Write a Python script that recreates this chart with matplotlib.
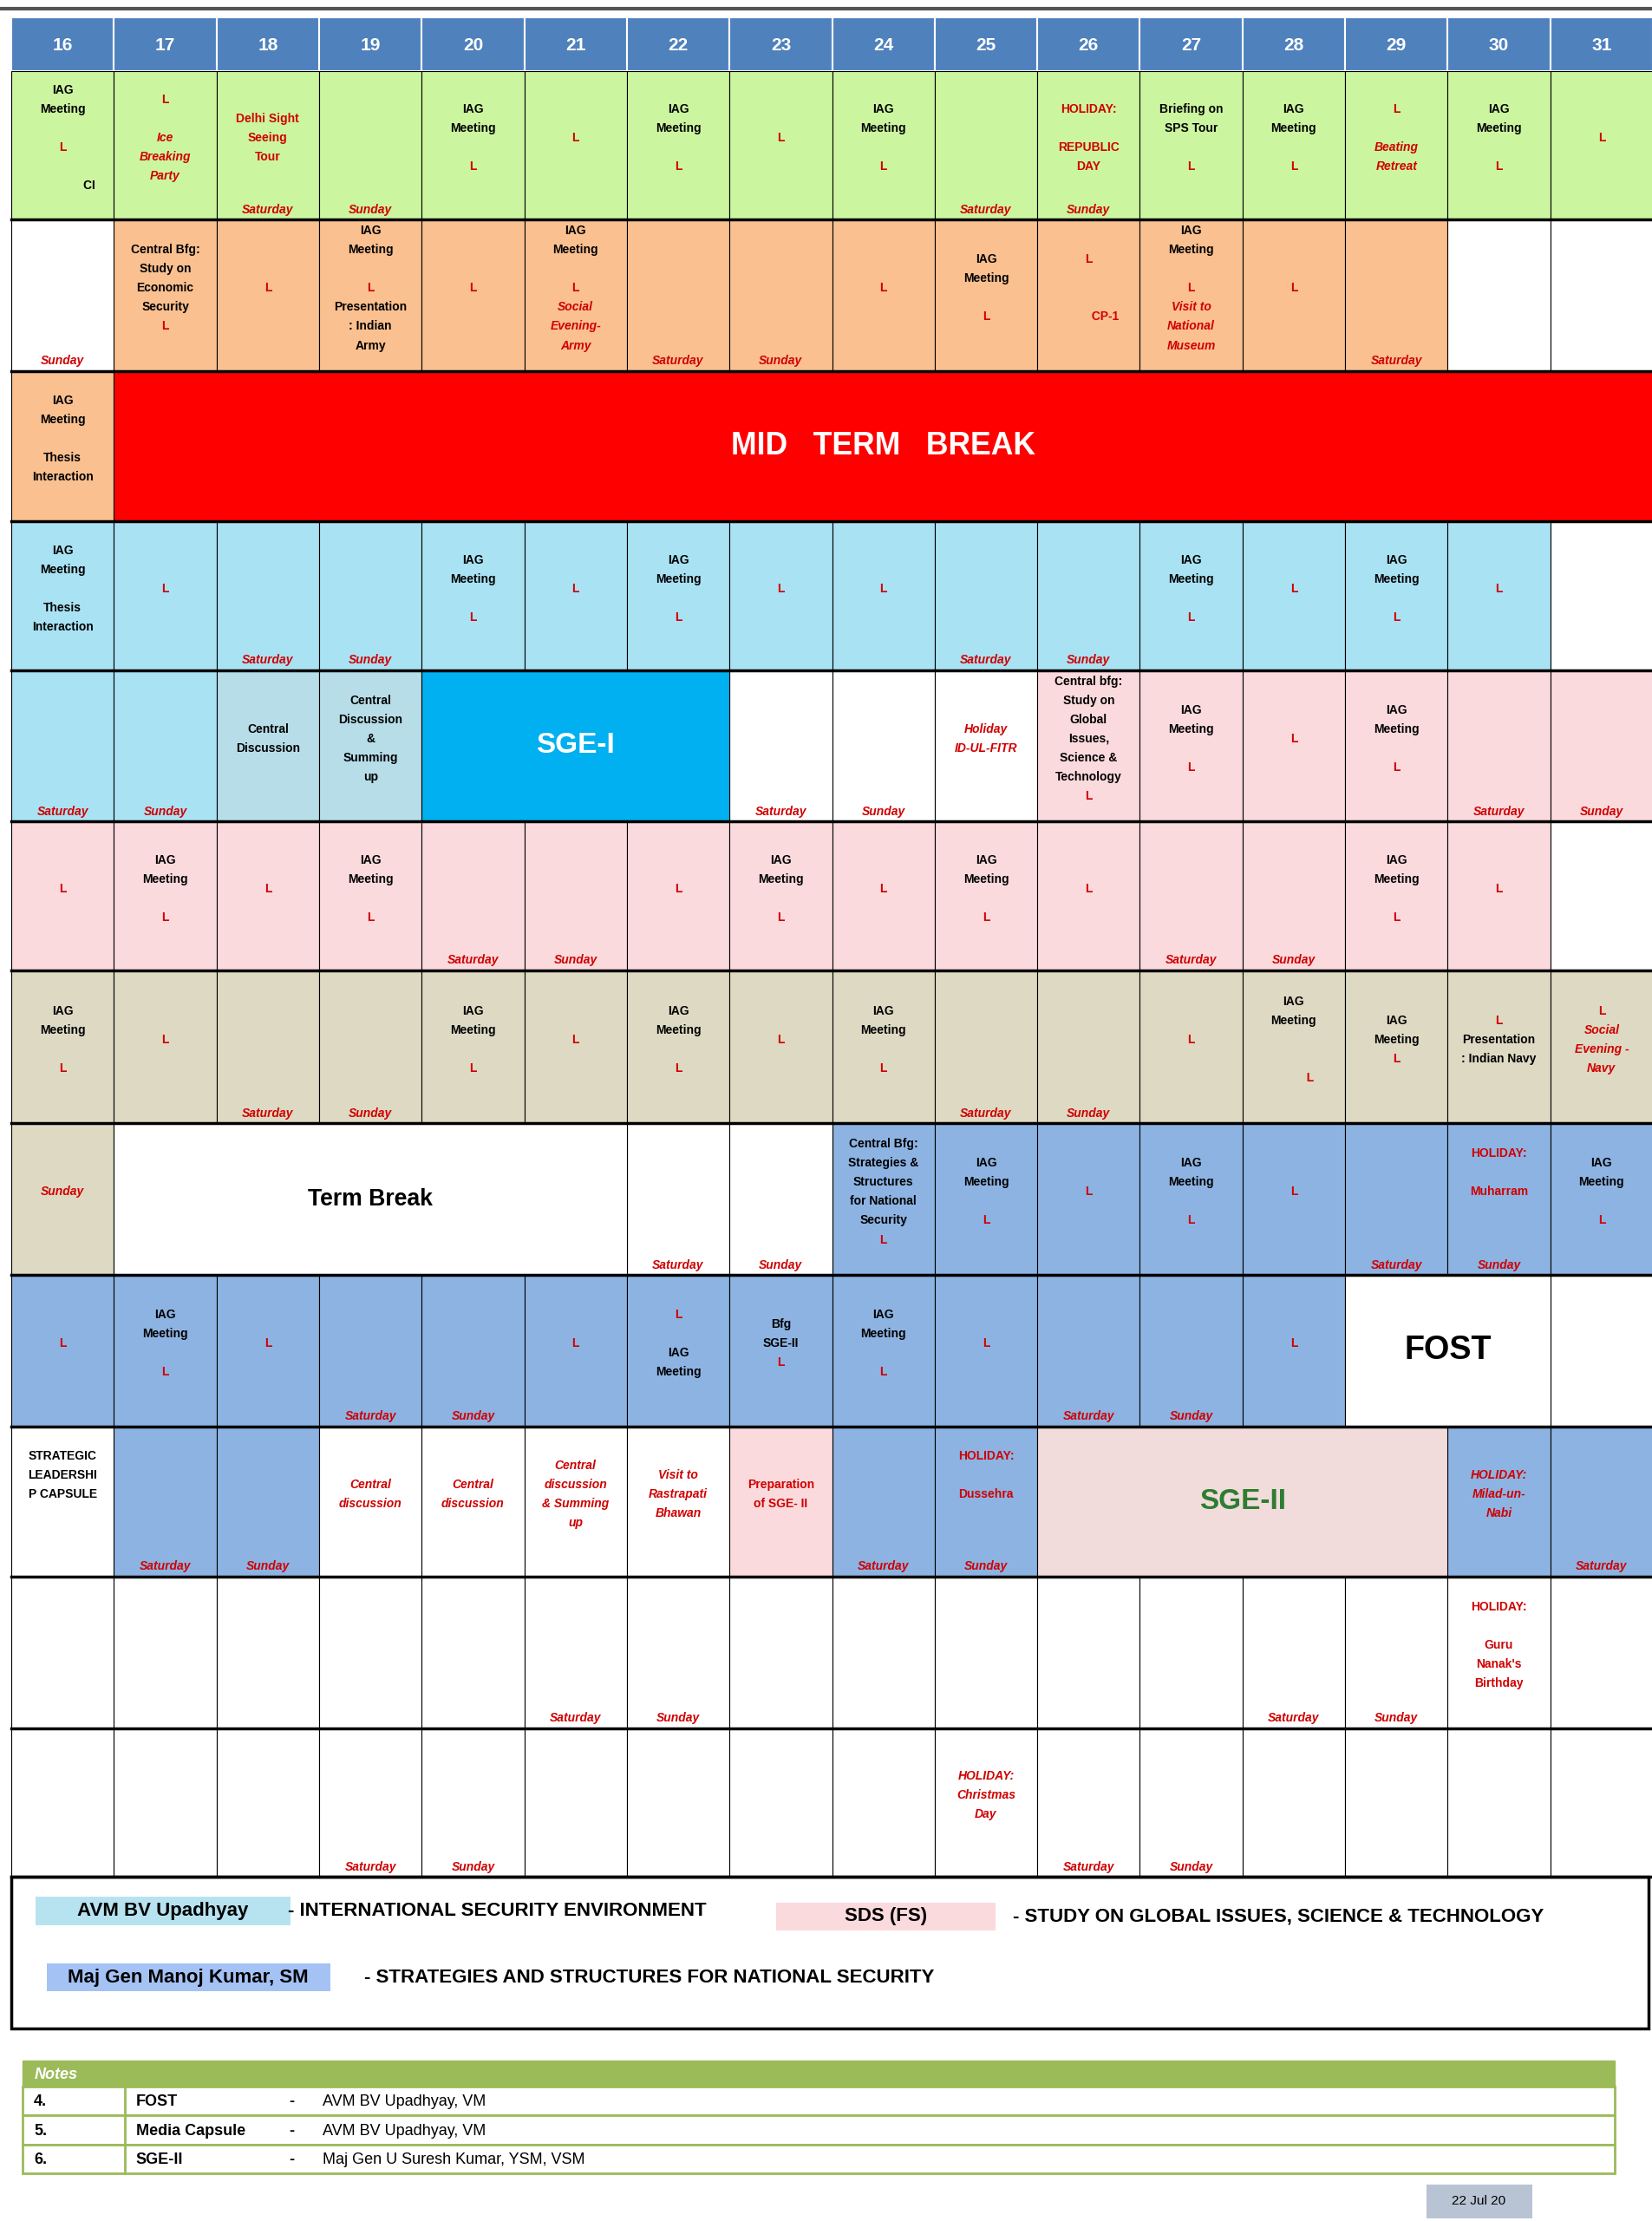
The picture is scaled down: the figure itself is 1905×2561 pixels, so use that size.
import matplotlib.pyplot as plt
from matplotlib.patches import Rectangle

plt.rcParams['font.family'] = ['Liberation Sans Narrow', 'Liberation Sans', 'DejaVu Sans']

days = list(range(16, 32))

GREEN = '#ccf5a0'; ORANGE = '#fac090'; RED = '#ff0000'; LBLUE = '#a9e2f3'
PINK = '#fadadd'; KHAKI = '#ddd9c3'; BLUE = '#8db3e2'; CYAN = '#00b0f0'
CDIS = '#b7dde8'; W = 'white'

IAG = "IAG\nMeeting\n\nL"
# each row: base colour, {col index: (text, colour)}, bottom labels, merged blocks
rows = [
    (GREEN, {0: ("IAG\nMeeting\n\nL\n\n                CI", None), 1: ("L\n\n~Ice\n~Breaking\n~Party", None),
             2: ("!Delhi Sight\n!Seeing\n!Tour", None), 4: (IAG, None), 5: ("L", None), 6: (IAG, None),
             7: ("L", None), 8: (IAG, None), 10: ("!HOLIDAY:\n\n!REPUBLIC\n!DAY", None),
             11: ("Briefing on\nSPS Tour\n\nL", None), 12: (IAG, None), 13: ("L\n\n~Beating\n~Retreat", None),
             14: (IAG, None), 15: ("L", None)},
     {2: "Saturday", 3: "Sunday", 9: "Saturday", 10: "Sunday"}, []),
    (ORANGE, {0: ("", W), 1: ("Central Bfg:\nStudy on\nEconomic\nSecurity\nL", None), 2: ("L", None),
              3: ("IAG\nMeeting\n\nL\nPresentation\n: Indian\nArmy", None), 4: ("L", None),
              5: ("IAG\nMeeting\n\nL\n~Social\n~Evening-\n~Army", None), 8: ("L", None), 9: (IAG, None),
              10: ("L\n\n\n          !CP-1", None), 11: ("IAG\nMeeting\n\nL\n~Visit to\n~National\n~Museum", None),
              12: ("L", None), 14: ("", W), 15: ("", W)},
     {0: "Sunday", 6: "Saturday", 7: "Sunday", 13: "Saturday"}, []),
    (RED, {0: ("IAG\nMeeting\n\nThesis\nInteraction", ORANGE)}, {},
     [(1, 15, RED, "MID   TERM   BREAK", 'white', 16)]),
    (LBLUE, {0: ("IAG\nMeeting\n\nThesis\nInteraction", None), 1: ("L", None), 4: (IAG, None), 5: ("L", None),
             6: (IAG, None), 7: ("L", None), 8: ("L", None), 11: (IAG, None), 12: ("L", None),
             13: (IAG, None), 14: ("L", None), 15: ("", W)},
     {2: "Saturday", 3: "Sunday", 9: "Saturday", 10: "Sunday"}, []),
    (PINK, {0: ("", LBLUE), 1: ("", LBLUE), 2: ("Central\nDiscussion", CDIS),
            3: ("Central\nDiscussion\n&\nSumming\nup", CDIS), 7: ("", W), 8: ("", W),
            9: ("~Holiday\n~ID-UL-FITR", W),
            10: ("Central bfg:\nStudy on\nGlobal\nIssues,\nScience &\nTechnology\nL", None),
            11: (IAG, None), 12: ("L", None), 13: (IAG, None)},
     {0: "Saturday", 1: "Sunday", 7: "Saturday", 8: "Sunday", 14: "Saturday", 15: "Sunday"},
     [(4, 6, CYAN, "SGE-I", 'white', 15)]),
    (PINK, {0: ("L", None), 1: (IAG, None), 2: ("L", None), 3: (IAG, None), 6: ("L", None), 7: (IAG, None),
            8: ("L", None), 9: (IAG, None), 10: ("L", None), 13: (IAG, None), 14: ("L", None), 15: ("", W)},
     {4: "Saturday", 5: "Sunday", 11: "Saturday", 12: "Sunday"}, []),
    (KHAKI, {0: (IAG, None), 1: ("L", None), 4: (IAG, None), 5: ("L", None), 6: (IAG, None), 7: ("L", None),
             8: (IAG, None), 11: ("L", None), 12: ("IAG\nMeeting\n\n\n          L", None), 13: ("IAG\nMeeting\nL", None),
             14: ("L\nPresentation\n: Indian Navy", None), 15: ("L\n~Social\n~Evening -\n~Navy", None)},
     {2: "Saturday", 3: "Sunday", 9: "Saturday", 10: "Sunday"}, []),
    (BLUE, {0: ("~Sunday", KHAKI), 6: ("", W), 7: ("", W),
            8: ("Central Bfg:\nStrategies &\nStructures\nfor National\nSecurity\nL", None), 9: (IAG, None),
            10: ("L", None), 11: (IAG, None), 12: ("L", None), 14: ("!HOLIDAY:\n\n!Muharram\n\n", None),
            15: (IAG, None)},
     {6: "Saturday", 7: "Sunday", 13: "Saturday", 14: "Sunday"},
     [(1, 5, W, "Term Break", 'black', 12)]),
    (BLUE, {0: ("L", None), 1: (IAG, None), 2: ("L", None), 5: ("L", None), 6: ("L\n\nIAG\nMeeting", None),
            7: ("Bfg\nSGE-II\nL", None), 8: (IAG, None), 9: ("L", None), 12: ("L", None), 15: ("", W)},
     {3: "Saturday", 4: "Sunday", 10: "Saturday", 11: "Sunday"},
     [(13, 14, W, "FOST", 'black', 17)]),
    (W, {0: ("STRATEGIC\nLEADERSHI\nP CAPSULE\n\n", None), 1: ("", BLUE), 2: ("", BLUE),
         3: ("~Central\n~discussion", None), 4: ("~Central\n~discussion", None),
         5: ("~Central\n~discussion\n~& Summing\n~up", None), 6: ("~Visit to\n~Rastrapati\n~Bhawan", None),
         7: ("!Preparation\n!of SGE- II", PINK), 8: ("", BLUE), 9: ("!HOLIDAY:\n\n!Dussehra\n\n", BLUE),
         14: ("~HOLIDAY:\n~Milad-un-\n~Nabi", BLUE), 15: ("", BLUE)},
     {1: "Saturday", 2: "Sunday", 8: "Saturday", 9: "Sunday", 15: "Saturday"},
     [(10, 13, '#f2dcdb', "SGE-II", '#2e7d32', 15)]),
    (W, {14: ("!HOLIDAY:\n\n!Guru\n!Nanak's\n!Birthday", None)},
     {5: "Saturday", 6: "Sunday", 12: "Saturday", 13: "Sunday"}, []),
    (W, {9: ("~HOLIDAY:\n~Christmas\n~Day", None)},
     {3: "Saturday", 4: "Sunday", 10: "Saturday", 11: "Sunday"}, []),
]
row_edges = [50, 155, 262, 368, 473, 580, 685, 793, 900, 1007, 1113, 1220, 1325]

legend_items = [("AVM BV Upadhyay", '#b7e3f0', "- INTERNATIONAL SECURITY ENVIRONMENT"),
                ("SDS (FS)", '#fadadd', "- STUDY ON GLOBAL ISSUES, SCIENCE & TECHNOLOGY"),
                ("Maj Gen Manoj Kumar, SM", '#a4c2f4', "- STRATEGIES AND STRUCTURES FOR NATIONAL SECURITY")]
notes = [("4.", "FOST", "AVM BV Upadhyay, VM"),
         ("5.", "Media Capsule", "AVM BV Upadhyay, VM"),
         ("6.", "SGE-II", "Maj Gen U Suresh Kumar, YSM, VSM")]

W_, H_ = 1167, 1568
fig = plt.figure(figsize=(19.06, 25.61), dpi=100)
ax = fig.add_axes([0, 0, 1, 1])
ax.set_xlim(0, W_); ax.set_ylim(H_, 0); ax.axis('off')

x0, x1 = 8, 1167
cw = (x1 - x0) / 16
LH = 13.5


def draw_text(cx, cy, text):
    lines = text.split('\n')
    n = len(lines)
    for i, ln in enumerate(lines):
        y = cy + (i - (n - 1) / 2) * LH
        color, style, t = 'black', 'normal', ln
        if ln.strip() == 'L':
            color = '#d00000'
        elif ln.strip().startswith('~'):
            color, style, t = '#d00000', 'italic', ln.replace('~', '')
        elif ln.strip().startswith('!'):
            color, t = '#d00000', ln.replace('!', '')
        ax.text(cx, y, t, ha='center', va='center', fontsize=10, fontweight='bold',
                color=color, style=style)


ax.plot([0, W_], [6, 6], color='#555555', lw=3)
for i, d in enumerate(days):
    ax.add_patch(Rectangle((x0 + i * cw, 12), cw, 38, fc='#4f81bd', ec='white', lw=1.5))
    ax.text(x0 + (i + 0.5) * cw, 32, str(d), ha='center', va='center', color='white',
            fontsize=15, fontweight='bold')

for r, (base, cells, bottoms, merges) in enumerate(rows):
    yt, yb = row_edges[r], row_edges[r + 1]
    merged = set()
    for (a, b, c, t, tc, fs) in merges:
        merged.update(range(a, b + 1))
    for i in range(16):
        if i in merged:
            continue
        txt, c = cells.get(i, ("", None))
        ax.add_patch(Rectangle((x0 + i * cw, yt), cw, yb - yt, fc=c or base, ec='black', lw=0.8))
        if txt:
            draw_text(x0 + (i + 0.5) * cw, (yt + yb) / 2 - 5, txt)
        if i in bottoms:
            ax.text(x0 + (i + 0.5) * cw, yb - 7, bottoms[i], ha='center', va='center', fontsize=10,
                    fontweight='bold', style='italic', color='#d00000')
    for (a, b, c, t, tc, fs) in merges:
        ax.add_patch(Rectangle((x0 + a * cw, yt), (b - a + 1) * cw, yb - yt, fc=c, ec='black', lw=0.8))
        ax.text(x0 + (a + b + 1) / 2 * cw, (yt + yb) / 2, t, ha='center', va='center',
                fontsize=fs * 1.6, fontweight='bold', color=tc)
    ax.plot([x0, x1], [yb, yb], color='black', lw=2.5)

# legend box
ax.add_patch(Rectangle((8, 1325), 1156, 107, fc='white', ec='black', lw=2.5))
pos = [(25, 1349, 180, 550, 203), (548, 1353, 155, 626, 715), (33, 1396, 200, 133, 257)]
for (name, c, desc), (lx, ly, lw_, cx, dx) in zip(legend_items, pos):
    ax.add_patch(Rectangle((lx, ly - 10), lw_, 20, fc=c, ec='none'))
    ax.text(lx + lw_ / 2, ly, name, ha='center', va='center', fontsize=16, fontweight='bold')
    ax.text(dx, ly, desc, ha='left', va='center', fontsize=16, fontweight='bold')

# notes table
ax.add_patch(Rectangle((16, 1455), 1124, 18, fc='#9bbb59', ec='#9bbb59'))
ax.text(24, 1465, "Notes", ha='left', va='center', fontsize=13, style='italic', fontweight='bold',
        color='white')
for k, (n, a, b) in enumerate(notes):
    y = 1473 + k * 20.5
    ax.add_patch(Rectangle((16, y), 1124, 20.5, fc='white', ec='#9bbb59', lw=2))
    ax.plot([88, 88], [y, y + 20.5], color='#9bbb59', lw=2)
    ax.text(24, y + 11, n, ha='left', va='center', fontsize=13, fontweight='bold')
    ax.text(96, y + 11, a, ha='left', va='center', fontsize=13, fontweight='bold')
    ax.text(204, y + 11, "-", ha='left', va='center', fontsize=13, fontweight='bold')
    ax.text(228, y + 11, b, ha='left', va='center', fontsize=13)

ax.add_patch(Rectangle((1007, 1542), 75, 24, fc='#b8c4d4', ec='none'))
ax.text(1044, 1554, "22 Jul 20", ha='center', va='center', fontsize=11)

fig.savefig('out.png', dpi=100)
